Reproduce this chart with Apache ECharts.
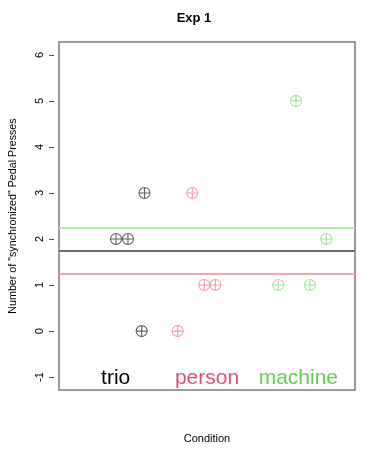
<!DOCTYPE html>
<html><head><meta charset="utf-8">
<script src="https://cdn.jsdelivr.net/npm/echarts@6/dist/echarts.min.js"></script>
<style>html,body{margin:0;padding:0;background:#fff}#c{width:388px;height:462px}</style>
</head><body><div id="c"></div>
<script>
const groups = ['trio', 'person', 'machine'];
const groupPos = [1, 2, 3];
const trioX = [1.004, 1.135, 1.316, 1.285];
const trioY = [2, 2, 3, 0];
const personX = [1.839, 1.679, 1.970, 2.091];
const personY = [3, 0, 1, 1];
const machineX = [2.974, 3.306, 2.780, 3.127];
const machineY = [5, 2, 1, 1];
const yTicks = [-1, 0, 1, 2, 3, 4, 5, 6];
const means = [1.75, 1.25, 2.25];

const textColors = ['#000000', '#DF536B', '#61D04F'];
const pointColors = ['#3a3a3a', '#EE8495', '#8ED884'];
const lineColors = ['#6e6e6e', '#F4A7B3', '#B6E8AE'];
const font = 'Liberation Sans, Arial, Helvetica, sans-serif';
const sym = 'path://M-10,0 A10,10 0 1,0 10,0 A10,10 0 1,0 -10,0 Z M-10,0 L10,0 M0,-10 L0,10';

const xs = [trioX, personX, machineX];
const ys = [trioY, personY, machineY];
const series = [];
for (let g = 0; g < 3; g++) {
  series.push({
    type: 'scatter', name: groups[g], symbol: sym, symbolSize: 11, silent: true,
    data: xs[g].map((x, i) => [x, ys[g][i]]),
    itemStyle: { color: 'rgba(0,0,0,0)', borderColor: pointColors[g], borderWidth: 1.1 },
    markLine: {
      silent: true, symbol: 'none', animation: false,
      label: { show: false },
      lineStyle: { color: lineColors[g], width: 2, type: 'solid' },
      data: [{ yAxis: means[g] }]
    },
    z: 3
  });
}
series.push({
  type: 'scatter', symbolSize: 0, silent: true,
  itemStyle: { color: 'rgba(0,0,0,0)' },
  data: groups.map((name, i) => ({
    value: [groupPos[i], -1], name: name,
    label: { color: textColors[i] }
  })),
  label: {
    show: true, position: 'inside', formatter: p => p.name,
    fontFamily: font, fontSize: 21, offset: [0, 1],
    textBorderWidth: 0, textBorderColor: 'transparent', opacity: 1
  },
  z: 4
});

const chart = echarts.init(document.getElementById('c'), null, { renderer: 'canvas' });
chart.setOption({
  animation: false,
  backgroundColor: '#ffffff',
  title: {
    text: 'Exp 1', left: 'center', top: 7,
    textStyle: { fontFamily: font, fontSize: 13, fontWeight: 'bold', color: '#000' }
  },
  grid: {
    left: 59, right: 33, top: 42, bottom: 72, show: true,
    borderColor: '#7a7a7a', borderWidth: 1.5, backgroundColor: 'transparent'
  },
  xAxis: {
    type: 'value', min: 0.38, max: 3.62,
    name: 'Condition', nameLocation: 'middle', nameGap: 43,
    nameTextStyle: { fontFamily: font, fontSize: 11, color: '#000' },
    axisLine: { show: false }, axisTick: { show: false },
    axisLabel: { show: false }, splitLine: { show: false }
  },
  yAxis: {
    type: 'value', min: -1.28, max: 6.28, offset: 5,
    name: 'Number of "synchronized" Pedal Presses', nameLocation: 'middle',
    nameRotate: 90, nameGap: 35,
    nameTextStyle: { fontFamily: font, fontSize: 10.7, color: '#000' },
    axisLine: { show: false },
    axisTick: { show: true, length: 5, customValues: yTicks, lineStyle: { color: '#555', width: 1 } },
    axisLabel: { show: true, customValues: yTicks, rotate: 90, margin: 9, fontFamily: font, fontSize: 11, color: '#000' },
    splitLine: { show: false }
  },
  series: series
});
</script></body></html>
